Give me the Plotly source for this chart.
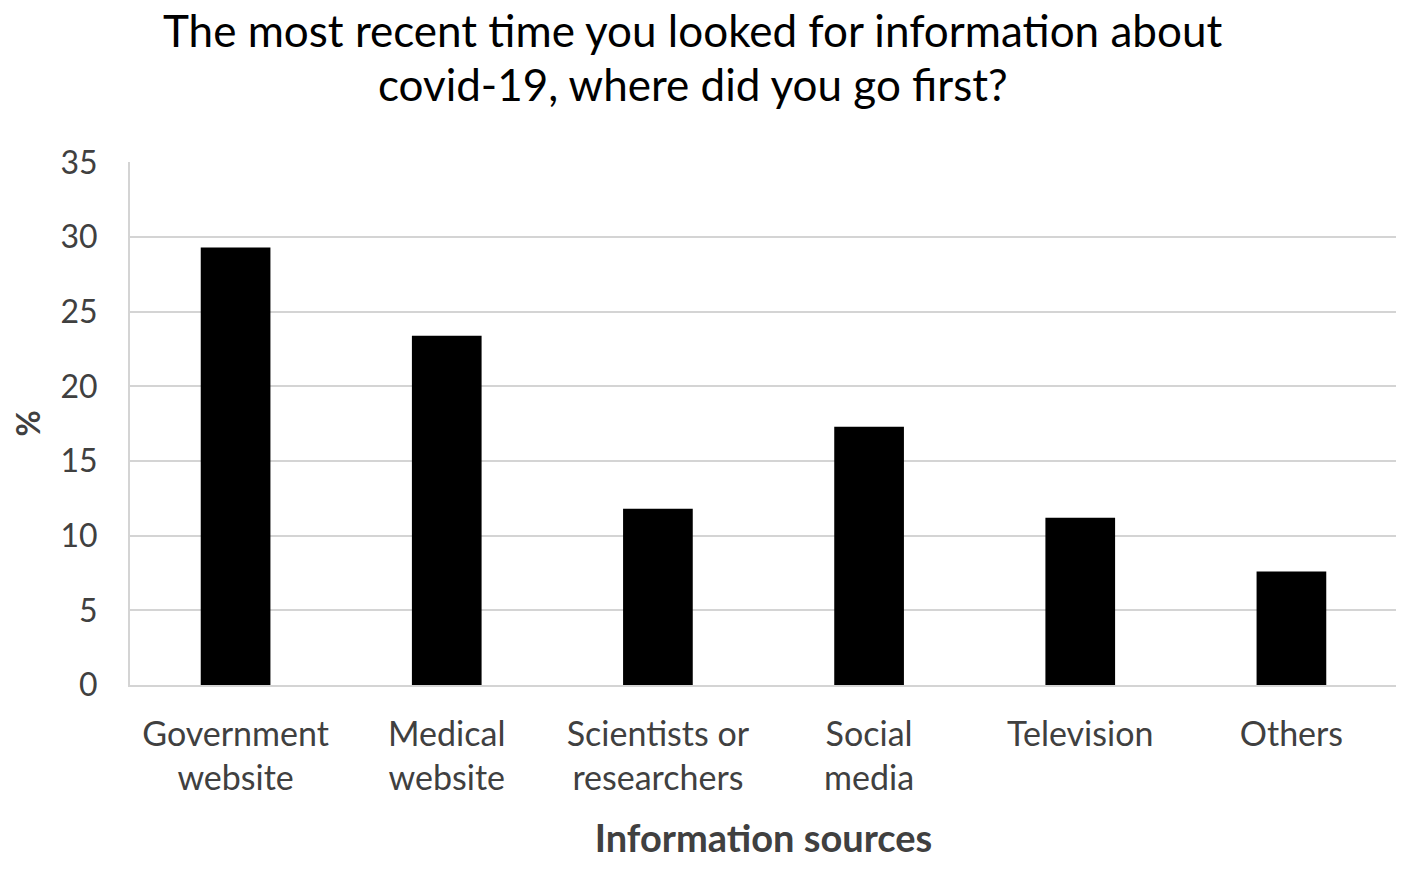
import plotly.graph_objects as go

categories = ["Government<br>website", "Medical<br>website", "Scientists or<br>researchers",
              "Social<br>media", "Television", "Others"]
percent = [29.3, 23.4, 11.8, 17.3, 11.2, 7.6]
y_ticks = [0, 5, 10, 15, 20, 25, 30, 35]

title_lines = ["The most recent time you looked for information about",
               "covid-19, where did you go first?"]

fig = go.Figure(go.Bar(x=categories, y=percent, marker=dict(color="black", line=dict(width=0))))

# page body has an 8px margin, so the figure is 8px smaller than the window
fig.update_layout(
    width=1396, height=863,
    paper_bgcolor="white", plot_bgcolor="white",
    font=dict(family="Lato, Open Sans, sans-serif", color="#404040"),
    margin=dict(l=122, r=7, t=154, b=186, autoexpand=False),
    bargap=0.67,
    showlegend=False,
)

# title as two annotations to control the line spacing
for i, line in enumerate(title_lines):
    fig.add_annotation(text=line, xref="paper", yref="paper", x=0.444, y=[1.252, 1.149][i],
                       xanchor="center", yanchor="middle", showarrow=False,
                       font=dict(size=44, color="black"))

fig.update_yaxes(
    range=[0, 35.03], tickvals=y_ticks,
    showgrid=True, gridcolor="#d4d4d4", gridwidth=2,
    showline=True, linecolor="#d4d4d4", linewidth=2,
    zeroline=False, ticks="", ticklabelstandoff=24,
    tickfont=dict(size=32, color="#404040"),
    title=dict(text="%", font=dict(size=32, color="#404040", weight="bold"), standoff=42),
)

fig.update_xaxes(
    showline=True, linecolor="#d4d4d4", linewidth=2,
    ticks="", ticklabelstandoff=18,
    tickfont=dict(size=34, color="#404040"),
    title=dict(text="Information sources", font=dict(size=38, color="#404040", weight="bold"),
               standoff=29),
)

fig.write_html("out.html")
